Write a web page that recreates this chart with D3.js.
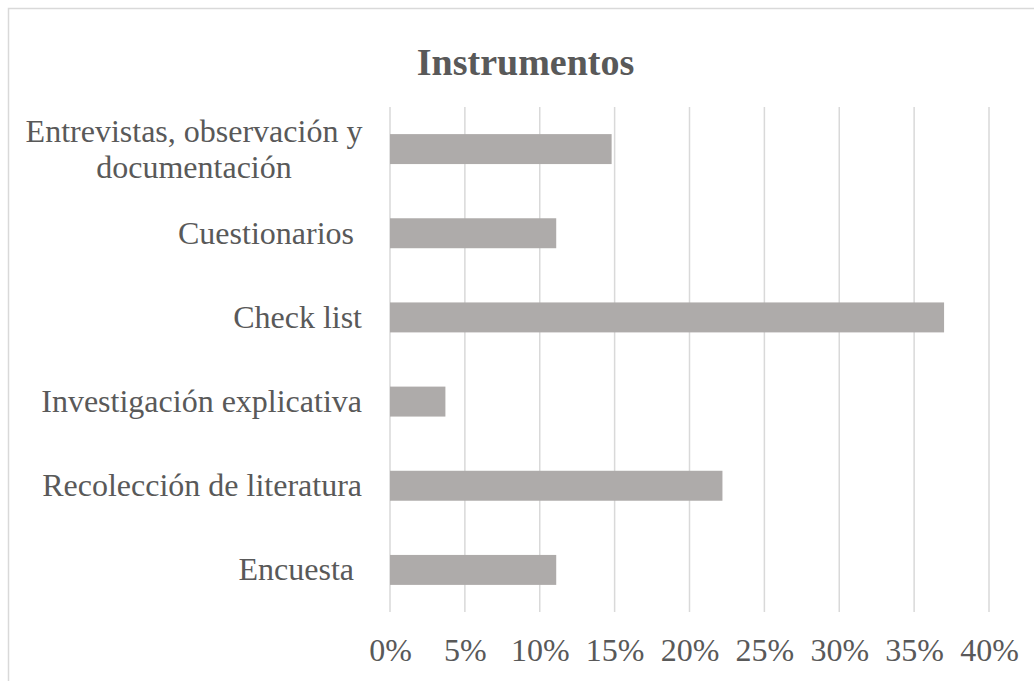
<!DOCTYPE html>
<html>
<head>
<meta charset="utf-8">
<script src="https://cdn.jsdelivr.net/npm/d3@7"></script>
<style>
  body { margin: 0; background: #fff; }
  text { font-family: "Liberation Serif", "Times New Roman", serif; fill: #595959; }
</style>
</head>
<body>
<div id="chart"></div>
<script>
var svgWidth = 1034;
var svgHeight = 681;

// data (share of studies per instrument)
var categories = ["Entrevistas, observación y documentación", "Cuestionarios ", "Check list",
                  "Investigación explicativa", "Recolección de literatura", "Encuesta "];
var labelLines = [["Entrevistas, observación y", "documentación"], ["Cuestionarios "], ["Check list"],
                  ["Investigación explicativa"], ["Recolección de literatura"], ["Encuesta "]];
var values = [0.148, 0.111, 0.370, 0.037, 0.222, 0.111];
var tickValues = [0, 0.05, 0.10, 0.15, 0.20, 0.25, 0.30, 0.35, 0.40];
var title = "Instrumentos";

var svg = d3.select("#chart")
    .append("svg")
    .attr("width", svgWidth)
    .attr("height", svgHeight);

// chart frame (cut off at right/bottom like the source image)
svg.append("rect")
    .attr("x", 8.5)
    .attr("y", 8.5)
    .attr("width", 1100)
    .attr("height", 800)
    .attr("fill", "#fff")
    .attr("stroke", "#D9D9D9")
    .attr("stroke-width", 1.5);

var xScale = d3.scaleLinear()
    .domain([0, 0.40])
    .range([390, 989]);

var yScale = d3.scaleBand()
    .domain(categories)
    .range([107, 612])
    .paddingInner(0.644)
    .paddingOuter(0.322);

// gridlines
svg.append("g")
    .selectAll("line")
    .data(tickValues)
    .enter()
    .append("line")
    .attr("x1", d => xScale(d))
    .attr("x2", d => xScale(d))
    .attr("y1", 107)
    .attr("y2", 612)
    .attr("stroke", "#D9D9D9")
    .attr("stroke-width", 1.5);

// bars
svg.append("g")
    .selectAll("rect")
    .data(values)
    .enter()
    .append("rect")
    .attr("x", xScale(0))
    .attr("y", (d, i) => yScale(categories[i]))
    .attr("width", d => xScale(d) - xScale(0))
    .attr("height", yScale.bandwidth())
    .attr("fill", "#AEABAA");

// x tick labels
var bottomAxis = d3.axisBottom(xScale)
    .tickValues(tickValues)
    .tickFormat(d3.format(".0%"))
    .tickSize(0)
    .tickPadding(0);

var xAxisG = svg.append("g")
    .attr("transform", "translate(0, 640)")
    .call(bottomAxis);
xAxisG.select(".domain").remove();
xAxisG.selectAll("text")
    .attr("dy", 0)
    .attr("y", 21)
    .style("font-family", "'Liberation Serif', serif")
    .style("font-size", "32px")
    .style("fill", "#595959");

// category labels
var labelG = svg.append("g");
labelLines.forEach(function(lines, i) {
    var cy = yScale(categories[i]) + yScale.bandwidth() / 2;
    var lineH = 36;
    var first = cy - (lines.length - 1) * lineH / 2;
    var t = labelG.append("text")
        .attr("font-size", "32px")
        .attr("text-anchor", lines.length > 1 ? "middle" : "end")
        .style("white-space", "pre");
    lines.forEach(function(l, j) {
        t.append("tspan")
            .attr("x", lines.length > 1 ? 194 : 362)
            .attr("y", first + j * lineH)
            .attr("dy", "0.33em")
            .text(l);
    });
});

// title
svg.append("text")
    .attr("x", 525.5)
    .attr("y", 75)
    .attr("text-anchor", "middle")
    .attr("font-size", "38px")
    .attr("font-weight", "bold")
    .text(title);
</script>
</body>
</html>
